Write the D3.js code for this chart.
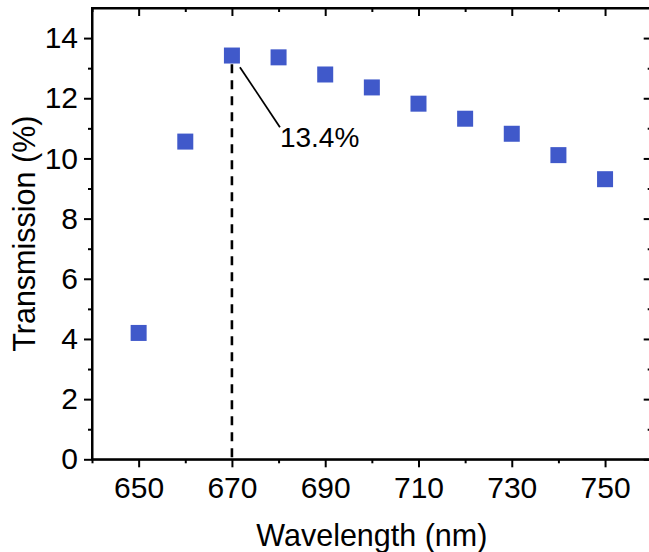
<!DOCTYPE html>
<html>
<head>
<meta charset="utf-8">
<script src="https://cdn.jsdelivr.net/npm/d3@7/dist/d3.min.js"></script>
<style>
  html, body { margin: 0; padding: 0; background: #fff; }
  svg { display: block; }
  text { font-family: "Liberation Sans", Arial, sans-serif; fill: #000; }
</style>
</head>
<body>
<svg id="chart" width="649" height="552"></svg>
<script>
// ---- data ----
const wavelengths = [650, 660, 670, 680, 690, 700, 710, 720, 730, 740, 750];
const transmission = [4.20, 10.56, 13.42, 13.36, 12.79, 12.36, 11.82, 11.32, 10.82, 10.11, 9.31];
const xMajorTicks = [650, 670, 690, 710, 730, 750];
const xMinorTicks = [640, 660, 680, 700, 720, 740, 760];
const yMajorTicks = [0, 2, 4, 6, 8, 10, 12, 14];
const yMinorTicks = [1, 3, 5, 7, 9, 11, 13];
const peakWavelength = 670;
const peakValue = 13.4;
const peakLabel = "13.4%";
const xTitle = "Wavelength (nm)";
const yTitle = "Transmission (%)";

// ---- layout ----
const svg = d3.select("#chart");
const pLeft = 92, pRight = 651.7, pTop = 8, pBottom = 459.3;
const x = d3.scaleLinear().domain([640, 760]).range([pLeft, pRight]);
const y = d3.scaleLinear().domain([0, 15]).range([pBottom, pTop]);
const tickFont = 30;
const titleFont = 30.5;
const annFont = 28;
const axisW = 2;
const major = 8, minor = 4;

function styleAxis(g) {
  g.selectAll(".domain").attr("stroke", "#000").attr("stroke-width", axisW);
  g.selectAll(".tick line").attr("stroke", "#000").attr("stroke-width", axisW);
  g.selectAll(".tick text").attr("font-size", tickFont).attr("font-family", "Liberation Sans, Arial, sans-serif").attr("fill", "#000");
}

function drawAxis(gen, pos, transform, showLabels, padding) {
  const g = svg.append("g").attr("transform", transform);
  g.append("g").call(gen(pos).tickValues(pos === x ? xMinorTicks : yMinorTicks).tickSize(minor).tickFormat("").tickSizeOuter(0));
  const mj = g.append("g").call(gen(pos).tickValues(pos === x ? xMajorTicks : yMajorTicks)
      .tickSize(major).tickPadding(padding).tickFormat(showLabels ? d3.format("d") : ""));
  mj.select(".domain").remove();
  styleAxis(g);
  return g;
}

// bottom axis (outward ticks, labels)
drawAxis(d3.axisBottom, x, `translate(0,${pBottom})`, true, 9);
// top axis (inward ticks)
drawAxis(d3.axisBottom, x, `translate(0,${pTop})`, false, 0);
// left axis (outward ticks, labels)
drawAxis(d3.axisLeft, y, `translate(${pLeft},0)`, true, 6);
// right axis (inward ticks)
drawAxis(d3.axisLeft, y, `translate(${pRight},0)`, false, 0);

// frame
svg.append("rect")
  .attr("x", pLeft).attr("y", pTop)
  .attr("width", pRight - pLeft).attr("height", pBottom - pTop)
  .attr("fill", "none").attr("stroke", "#000").attr("stroke-width", axisW);

// dashed line at peak
svg.append("line")
  .attr("x1", x(peakWavelength)).attr("x2", x(peakWavelength))
  .attr("y1", y(peakValue) + 8).attr("y2", pBottom)
  .attr("stroke", "#000").attr("stroke-width", 2.6)
  .attr("stroke-dasharray", "9,7");

// markers
const sz = 16;
svg.append("g").selectAll("rect")
  .data(wavelengths.map((w, i) => ({w, v: transmission[i]})))
  .join("rect")
  .attr("x", d => x(d.w) - sz / 2)
  .attr("y", d => y(d.v) - sz / 2)
  .attr("width", sz).attr("height", sz)
  .attr("fill", "#4059CA");

// annotation
const ax0 = x(peakWavelength) + 8, ay0 = y(peakValue) + 11;
const ax1 = x(peakWavelength) + 48, ay1 = y(peakValue) + 71;
svg.append("line")
  .attr("x1", ax0).attr("y1", ay0).attr("x2", ax1).attr("y2", ay1)
  .attr("stroke", "#000").attr("stroke-width", 1.8);
svg.append("text")
  .attr("x", ax1).attr("y", ay1 + 20)
  .attr("font-size", annFont)
  .text(peakLabel);

// axis titles
svg.append("text")
  .attr("x", (pLeft + pRight) / 2).attr("y", 546)
  .attr("text-anchor", "middle").attr("font-size", titleFont)
  .text(xTitle);
svg.append("text")
  .attr("transform", `translate(35,${(pTop + pBottom) / 2}) rotate(-90)`)
  .attr("text-anchor", "middle").attr("font-size", titleFont)
  .text(yTitle);
</script>
</body>
</html>
